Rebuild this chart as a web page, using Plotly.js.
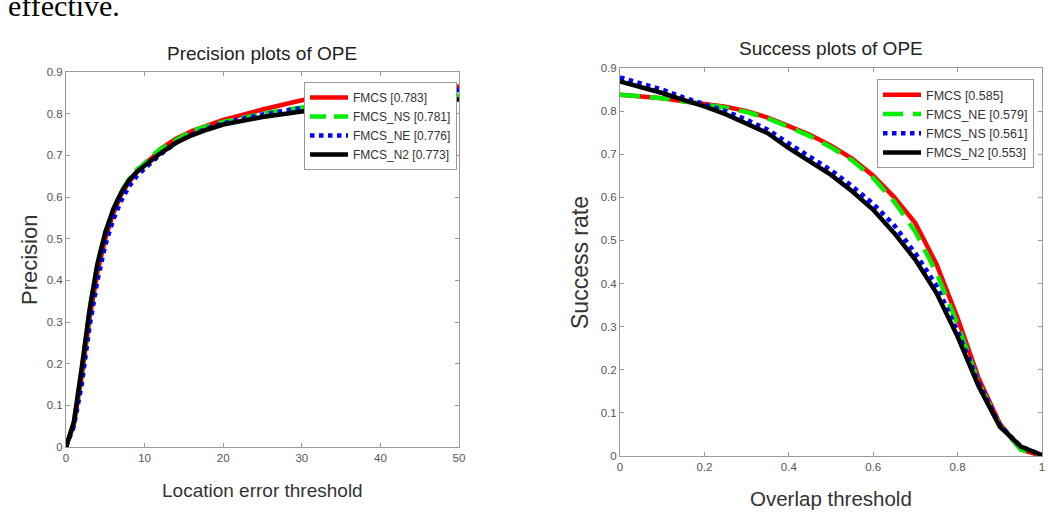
<!DOCTYPE html>
<html>
<head>
<meta charset="utf-8">
<script src="https://cdn.plot.ly/plotly-3.0.1.min.js"></script>
<style>html,body{margin:0;padding:0;background:#fff;}#chart{width:1048px;height:521px;}</style>
</head>
<body>
<div id="chart"></div>
<script>
// ---- Precision plot data (Location error threshold) ----
const precX = [0,1,2,3,4,5,6,7,8,9,10,11,12,14,16,18,20,25,30,35,40,45,50];
const precFMCS   = [0,0.055,0.17,0.31,0.42,0.50,0.56,0.605,0.635,0.66,0.68,0.695,0.715,0.74,0.758,0.772,0.785,0.81,0.832,0.845,0.853,0.86,0.865];
const precFMCS_NS= [0,0.06,0.185,0.33,0.44,0.515,0.57,0.612,0.642,0.665,0.68,0.70,0.715,0.738,0.758,0.77,0.78,0.80,0.815,0.826,0.833,0.838,0.843];
const precFMCS_NE= [0,0.05,0.15,0.29,0.40,0.485,0.545,0.59,0.625,0.65,0.668,0.685,0.702,0.73,0.75,0.765,0.777,0.798,0.815,0.83,0.842,0.85,0.857];
const precFMCS_N2= [0,0.06,0.19,0.33,0.44,0.515,0.57,0.61,0.64,0.66,0.675,0.69,0.705,0.73,0.748,0.762,0.774,0.792,0.805,0.815,0.823,0.829,0.834];
const precNames = ["FMCS [0.783]","FMCS_NS [0.781]","FMCS_NE [0.776]","FMCS_N2 [0.773]"];

// ---- Success plot data (Overlap threshold) ----
const succX = [0,0.05,0.1,0.15,0.2,0.25,0.3,0.35,0.4,0.45,0.5,0.55,0.6,0.65,0.7,0.75,0.8,0.85,0.9,0.95,1];
const succFMCS   = [0.838,0.835,0.83,0.823,0.816,0.81,0.80,0.785,0.765,0.745,0.72,0.69,0.65,0.60,0.54,0.445,0.32,0.18,0.075,0.015,0];
const succFMCS_NE= [0.838,0.835,0.83,0.823,0.816,0.808,0.798,0.783,0.763,0.742,0.716,0.686,0.645,0.59,0.52,0.425,0.305,0.17,0.07,0.015,0];
const succFMCS_NS= [0.878,0.865,0.85,0.832,0.815,0.80,0.78,0.757,0.725,0.695,0.663,0.626,0.585,0.535,0.47,0.395,0.29,0.17,0.072,0.022,0.002];
const succFMCS_N2= [0.869,0.856,0.842,0.826,0.811,0.793,0.772,0.749,0.714,0.683,0.652,0.614,0.571,0.517,0.455,0.378,0.277,0.161,0.068,0.022,0.002];
const succNames = ["FMCS [0.585]","FMCS_NE [0.579]","FMCS_NS [0.561]","FMCS_N2 [0.553]"];

const RED='#ff0000', GREEN='#00ee00', BLUE='#0000ff', BLACK='#000000';
const LW = 4.5;

function tr(x,y,name,color,dash,xa,ya,leg){
  return {x:x,y:y,name:name,type:'scatter',mode:'lines',xaxis:xa,yaxis:ya,legend:leg,
    line:{color:color,width:LW,dash:dash},hoverinfo:'skip'};
}

const data = [
  tr(precX,precFMCS,precNames[0],RED,'solid','x','y','legend'),
  tr(precX,precFMCS_NS,precNames[1],GREEN,'16px,8px','x','y','legend'),
  tr(precX,precFMCS_NE,precNames[2],BLUE,'dot','x','y','legend'),
  tr(precX,precFMCS_N2,precNames[3],BLACK,'solid','x','y','legend'),
  tr(succX,succFMCS,succNames[0],RED,'solid','x2','y2','legend2'),
  tr(succX,succFMCS_NE,succNames[1],GREEN,'20px,10px','x2','y2','legend2'),
  tr(succX,succFMCS_NS,succNames[2],BLUE,'dot','x2','y2','legend2'),
  tr(succX,succFMCS_N2,succNames[3],BLACK,'solid','x2','y2','legend2')
];

const FONT = 'Liberation Sans, Arial, sans-serif';
const axBase = {
  showgrid:false, zeroline:false, showline:true, linecolor:'#999', linewidth:1,
  mirror:'ticks', ticks:'inside', ticklen:4, tickcolor:'#999',
  tickfont:{family:FONT,size:11.5,color:'#555'}, fixedrange:true
};

const W=1048, H=521;
function px(v){return v/W;}
function py(v){return 1-v/H;}

const layout = {
  width:W, height:H, margin:{l:0,r:0,t:0,b:0},
  paper_bgcolor:'#fff', plot_bgcolor:'#fff',
  font:{family:FONT,color:'#333'},
  xaxis: Object.assign({}, axBase, {domain:[px(66),px(459)], range:[0,50], tickvals:[0,10,20,30,40,50], anchor:'y'}),
  yaxis: Object.assign({}, axBase, {domain:[py(447),py(72)], range:[0,0.9], tickvals:[0,0.1,0.2,0.3,0.4,0.5,0.6,0.7,0.8,0.9], ticktext:['0','0.1','0.2','0.3','0.4','0.5','0.6','0.7','0.8','0.9'], anchor:'x'}),
  xaxis2: Object.assign({}, axBase, {domain:[px(620),px(1042)], range:[0,1], tickvals:[0,0.2,0.4,0.6,0.8,1], ticktext:['0','0.2','0.4','0.6','0.8','1'], anchor:'y2'}),
  yaxis2: Object.assign({}, axBase, {domain:[py(456),py(68)], range:[0,0.9], tickvals:[0,0.1,0.2,0.3,0.4,0.5,0.6,0.7,0.8,0.9], ticktext:['0','0.1','0.2','0.3','0.4','0.5','0.6','0.7','0.8','0.9'], anchor:'x2'}),
  legend: {x:px(304), y:py(82), xanchor:'left', yanchor:'top', bgcolor:'#fff', bordercolor:'#999', borderwidth:1,
    font:{family:FONT,size:12,color:'#333'}, itemwidth:38, tracegroupgap:0},
  legend2: {x:px(877), y:py(79), xanchor:'left', yanchor:'top', bgcolor:'#fff', bordercolor:'#999', borderwidth:1,
    font:{family:FONT,size:12.5,color:'#333'}, itemwidth:38, tracegroupgap:0},
  showlegend:true,
  annotations:[
    {text:'effective.', xref:'paper', yref:'paper', x:px(6), y:py(5), xanchor:'left', yanchor:'middle', showarrow:false,
      font:{family:'Liberation Serif, Times New Roman, serif', size:30, color:'#000'}},
    {text:'Precision plots of OPE', xref:'paper', yref:'paper', x:px(262), y:py(53), xanchor:'center', yanchor:'middle', showarrow:false,
      font:{family:FONT,size:19,color:'#222'}},
    {text:'Success plots of OPE', xref:'paper', yref:'paper', x:px(831), y:py(49), xanchor:'center', yanchor:'middle', showarrow:false,
      font:{family:FONT,size:19,color:'#222'}},
    {text:'Location error threshold', xref:'paper', yref:'paper', x:px(262), y:py(490), xanchor:'center', yanchor:'middle', showarrow:false,
      font:{family:FONT,size:19,color:'#333'}},
    {text:'Overlap threshold', xref:'paper', yref:'paper', x:px(831), y:py(498), xanchor:'center', yanchor:'middle', showarrow:false,
      font:{family:FONT,size:20.5,color:'#333'}},
    {text:'Precision', xref:'paper', yref:'paper', x:px(29), y:py(260), xanchor:'center', yanchor:'middle', textangle:-90, showarrow:false,
      font:{family:FONT,size:22,color:'#333'}},
    {text:'Success rate', xref:'paper', yref:'paper', x:px(580), y:py(263), xanchor:'center', yanchor:'middle', textangle:-90, showarrow:false,
      font:{family:FONT,size:23,color:'#333'}}
  ]
};

Plotly.newPlot('chart', data, layout, {displayModeBar:false, staticPlot:true});
</script>
</body>
</html>
